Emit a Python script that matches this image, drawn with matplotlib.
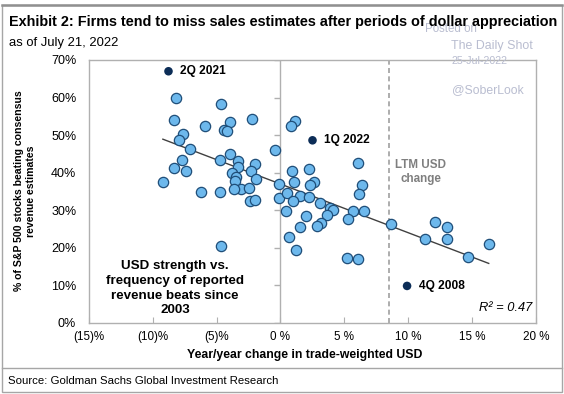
import numpy as np
import matplotlib
matplotlib.use('Agg')
import matplotlib.pyplot as plt
from matplotlib.patches import Rectangle
from matplotlib.lines import Line2D

plt.rcParams['font.family'] = ['Liberation Sans', 'DejaVu Sans']

# 분기별 데이터: 달러 변화율(%), 매출 상회 비율(%)
usd_chg = [-8.18, -4.65, -8.35, -2.22, -3.98, -5.94, -4.43, -4.18, -7.61, -7.92,
           -7.06, -0.39, -3.92, -4.73, -3.35, -7.74, -2.02, -3.33, -8.34, -7.41,
           -2.27, -3.78, -3.51, -1.88, -9.19, -3.59, -0.09, -3.12, -2.49, -3.66,
           -6.25, -4.71, -2.39, -1.98, -0.10, -4.63, 1.12, 0.81, 0.90, 2.21,
           1.10, 2.61, 2.35, 6.06, 6.39, 6.12, 0.53, 1.51, 2.20, 0.96,
           0.42, 2.04, 1.53, 0.67, 1.18, 3.08, 3.88, 4.12, 5.65, 6.53,
           3.66, 3.19, 2.88, 5.28, 8.68, 5.20, 6.06, 12.08, 13.00, 11.32,
           13.00, 16.34, 14.69]
beat_pct = [59.8, 58.4, 54.1, 54.4, 53.5, 52.3, 51.4, 51.0, 50.2, 48.6,
            46.4, 46.0, 45.0, 43.3, 43.0, 43.4, 42.3, 41.6, 41.1, 40.3,
            40.4, 39.8, 38.9, 38.2, 37.5, 37.7, 36.9, 35.7, 35.9, 35.6,
            34.7, 34.9, 32.5, 32.6, 33.2, 20.4, 53.7, 52.5, 40.4, 40.9,
            37.5, 37.5, 36.6, 42.6, 36.7, 34.3, 34.6, 33.8, 33.4, 32.4,
            29.7, 28.3, 25.6, 22.9, 19.3, 31.9, 30.5, 30.1, 29.8, 29.7,
            28.6, 26.6, 25.7, 27.6, 26.2, 17.3, 16.9, 26.8, 25.4, 22.4,
            22.4, 20.9, 17.6]

# 강조 분기
hl_labels = ['2Q 2021', '1Q 2022', '4Q 2008']
hl_x = [-8.76, 2.51, 9.91]
hl_y = [67.0, 48.6, 9.8]

# 추세선 (그림에서 읽은 양 끝점)
trend_x = [-9.2, 16.3]
trend_y = [48.9, 15.8]

ltm_usd = 8.5
xticks = [-15, -10, -5, 0, 5, 10, 15, 20]
xtick_labels = ['(15)%', '(10)%', '(5)%', '0 %', '5 %', '10 %', '15 %', '20 %']
yticks = [0, 10, 20, 30, 40, 50, 60, 70]
ytick_labels = ['0%', '10%', '20%', '30%', '40%', '50%', '60%', '70%']

W, H = 564, 394
fig = plt.figure(figsize=(W / 100, H / 100), dpi=100)

def fx(px):
    return px / W

def fy(py):
    return 1 - py / H

ax = fig.add_axes([fx(88.75), fy(322.7), fx(536) - fx(88.75), fy(60) - fy(322.7)])
ax.set_xlim(-15, 20)
ax.set_ylim(0, 70)

gray = '#b0b0b0'
for s in ax.spines.values():
    s.set_color(gray)
    s.set_linewidth(1)

ax.set_xticks(xticks)
ax.set_xticklabels(xtick_labels, fontsize=8.4)
ax.set_yticks(yticks)
ax.set_yticklabels(ytick_labels, fontsize=9)
ax.tick_params(axis='x', direction='in', length=4, color=gray, pad=6)
ax.tick_params(axis='y', length=0, pad=9)

# 0 축 세로선과 눈금
ax.axvline(0, color=gray, lw=1, zorder=1)
ax.plot(np.zeros(len(yticks)), yticks, ls='none', marker=0, markersize=4,
        color=gray, markeredgewidth=1, zorder=1)

# LTM 점선
ax.axvline(ltm_usd, color='#a0a0a0', lw=1.2, ls=(0, (3, 2)), zorder=1)

ax.plot(trend_x, trend_y, color='#404040', lw=1, zorder=3)
ax.scatter(usd_chg, beat_pct, s=55, c='#6db8ec', edgecolors='#1f4e79',
           linewidths=0.9, zorder=4)
ax.scatter(hl_x, hl_y, s=38, c='#0c2d57', edgecolors='none', zorder=5)

for lab, x, y in zip(hl_labels, hl_x, hl_y):
    ax.text(x + 0.9, y, lab, fontsize=8.6, fontweight='bold', va='center', ha='left',
            color='black', zorder=6)

ax.text(10.98, 40.2, 'LTM USD\nchange', fontsize=8.4, fontweight='bold', color='#7f7f7f',
        ha='center', va='center', linespacing=1.15)
ax.text(-8.24, 9.2, 'USD strength vs.\nfrequency of reported\nrevenue beats since\n2003',
        fontsize=9.6, fontweight='bold', ha='center', va='center', linespacing=1.3)
ax.text(19.7, 4.0, 'R² = 0.47', fontsize=9.3, style='italic', ha='right', va='center')

fig.text(fx(25), fy(191), '% of S&P 500 stocks beating consensus\nrevenue estimates',
         rotation=90, fontsize=7.6, fontweight='bold', ha='center', va='center',
         multialignment='center', linespacing=1.3)
fig.text(fx(305), fy(355), 'Year/year change in trade-weighted USD', fontsize=8.8,
         fontweight='bold', ha='center', va='center')

# 워터마크
wm = '#b9bdd0'
fig.text(fx(451), fy(29.5), 'Posted on', fontsize=8.3, color=wm, ha='center', va='center', zorder=0)
fig.text(fx(492), fy(46), 'The Daily Shot', fontsize=8.9, color=wm, ha='center', va='center')
fig.text(fx(480), fy(60.5), '25-Jul-2022', fontsize=7.7, color=wm, ha='center', va='center')
fig.text(fx(488), fy(90), '@SoberLook', fontsize=8.8, color=wm, ha='center', va='center')

# 제목
fig.text(fx(9), fy(22), 'Exhibit 2: Firms tend to miss sales estimates after periods of dollar appreciation',
         fontsize=10.4, fontweight='bold', ha='left', va='center', zorder=3)
fig.text(fx(9), fy(43), 'as of July 21, 2022', fontsize=9.4, ha='left', va='center')
fig.text(fx(8), fy(381), 'Source: Goldman Sachs Global Investment Research', fontsize=8.2,
         ha='left', va='center')

# 외곽 테두리
frame = '#a6a6a6'
fig.add_artist(Rectangle((fx(2), fy(392)), fx(562) - fx(2), fy(5) - fy(392),
                         transform=fig.transFigure, fill=False, edgecolor=frame, lw=1))
fig.add_artist(Line2D([fx(2), fx(562)], [fy(5), fy(5)], transform=fig.transFigure,
                      color='#909090', lw=1.8))
fig.add_artist(Line2D([fx(2), fx(562)], [fy(368), fy(368)], transform=fig.transFigure,
                      color=frame, lw=1))

fig.savefig('out.png', dpi=100)
